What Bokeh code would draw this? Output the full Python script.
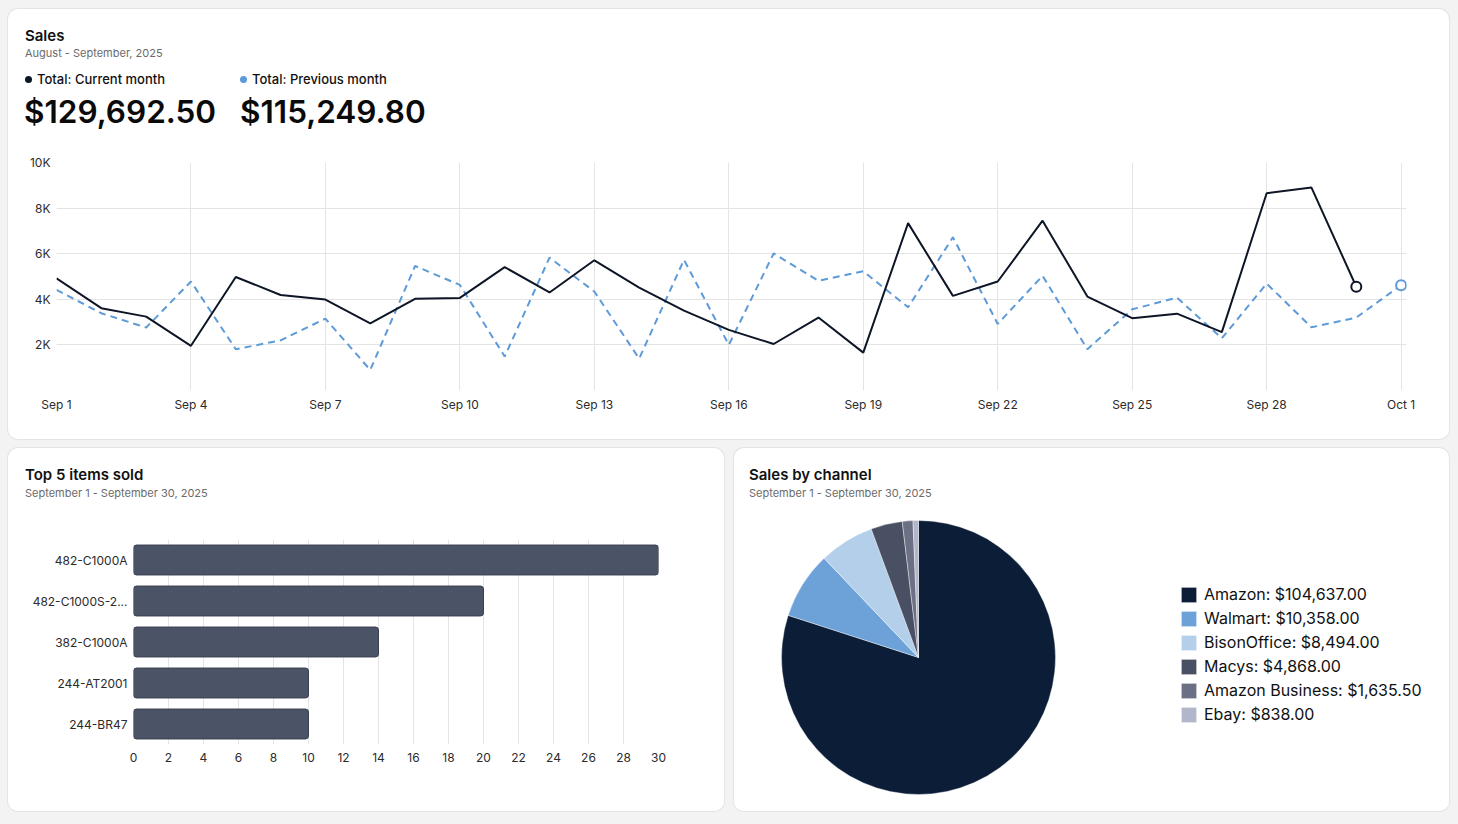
import numpy as np
from bokeh.plotting import figure
from bokeh.models import (Range1d, FactorRange, FixedTicker, Legend, Div,
                          LegendItem, ColumnDataSource, Column, Row)
from bokeh.embed import file_html
from bokeh.resources import INLINE

FONT = "Inter"

# ---------------- data ----------------
days = list(range(1, 32))  # Sep 1 .. Oct 1
current_month = [4920, 3610, 3240, 1960, 4980, 4190, 3990, 2940, 4020, 4060,
                 5410, 4300, 5710, 4510, 3500, 2660, 2040, 3200, 1660, 7340,
                 4150, 4780, 7450, 4120, 3170, 3370, 2560, 8650, 8900, 4550]
previous_month = [4410, 3390, 2760, 4780, 1810, 2200, 3150, 900, 5460, 4630,
                  1490, 5830, 4340, 1400, 5730, 2000, 6010, 4810, 5230, 3650,
                  6720, 2920, 5030, 1810, 3560, 4070, 2290, 4690, 2770, 3200,
                  4620]
x_tick_pos = [1, 4, 7, 10, 13, 16, 19, 22, 25, 28, 31]
x_tick_labels = ["Sep 1", "Sep 4", "Sep 7", "Sep 10", "Sep 13", "Sep 16",
                 "Sep 19", "Sep 22", "Sep 25", "Sep 28", "Oct 1"]
y_tick_pos = [0, 2000, 4000, 6000, 8000, 10000]
y_tick_labels = ["", "2K", "4K", "6K", "8K", "10K"]
series_names = ["Total: Current month", "Total: Previous month"]
series_totals = ["$129,692.50", "$115,249.80"]

items = ["482-C1000A", "482-C1000S-2...", "382-C1000A", "244-AT2001", "244-BR47"]
items_sold = [30, 20, 14, 10, 10]
bar_ticks = list(range(0, 31, 2))

channels = ["Amazon", "Walmart", "BisonOffice", "Macys", "Amazon Business", "Ebay"]
channel_sales = [104637.00, 10358.00, 8494.00, 4868.00, 1635.50, 838.00]
channel_colors = ["#0b1d37", "#6ca2d8", "#b3cfea", "#4a5063", "#6b7084", "#b1b6cb"]

CUR_COLOR = "#0d1526"
PREV_COLOR = "#5c9ad8"
TICK_COLOR = "#2b2b2b"
GRID_COLOR = "#e4e4e4"
CARD_STYLE = {"background-color": "white", "border-radius": "10px",
              "overflow": "hidden", "box-shadow": "0 0 0 1px #e4e4e4"}


def txt(left, top, text, size, weight=400, color="#111111"):
    return (f'<div style="position:absolute;left:{left}px;top:{top}px;'
            f'font-family:{FONT},sans-serif;font-size:{size}px;font-weight:{weight};'
            f'line-height:1;color:{color};white-space:nowrap">{text}</div>')


def dot(left, top, color):
    return (f'<div style="position:absolute;left:{left}px;top:{top}px;width:7px;'
            f'height:7px;border-radius:50%;background:{color}"></div>')


def header(width, height, parts):
    html = (f'<div style="position:relative;width:{width}px;height:{height}px">'
            + "".join(parts) + "</div>")
    return Div(text=html, width=width, height=height, margin=0)


def card_title(width, height, left, title, subtitle):
    return header(width, height, [txt(left, 19, title, 15, 600),
                                  txt(left, 40, subtitle, 11, 400, "#6b6b6b")])


def style_axes(p):
    for ax in p.axis:
        ax.axis_line_color = None
        ax.major_tick_line_color = None
        ax.minor_tick_line_color = None
        ax.major_tick_out = 0
        ax.major_tick_in = 0
        ax.minor_tick_out = 0
        ax.major_label_text_font = FONT
        ax.major_label_text_font_size = "12px"
        ax.major_label_text_color = TICK_COLOR


# ---------------- top: sales line chart ----------------
top_header = header(1441, 140, [
    txt(17, 19, "Sales", 15, 600),
    txt(17, 39, "August - September, 2025", 11, 400, "#6b6b6b"),
    dot(17, 67, CUR_COLOR), txt(29, 64, series_names[0], 13, 500),
    dot(232, 67, PREV_COLOR), txt(244, 64, series_names[1], 13, 500),
    txt(16, 87, series_totals[0], 31.5, 600, "#0a0a0a"),
    txt(232, 87, series_totals[1], 31.5, 600, "#0a0a0a"),
])

X_END = 31.12  # small room so the end marker on Oct 1 is not clipped
top = figure(width=1441, height=290, x_range=Range1d(1, X_END), y_range=Range1d(0, 10000),
             output_backend="svg", toolbar_location=None,
             min_border_left=48, min_border_right=43, min_border_top=13,
             min_border_bottom=49)
top.outline_line_color = None
top.border_fill_color = "white"
style_axes(top)
top.xaxis.ticker = FixedTicker(ticks=x_tick_pos)
top.xaxis.major_label_overrides = dict(zip(x_tick_pos, x_tick_labels))
top.xaxis.major_label_standoff = 6
top.yaxis.ticker = FixedTicker(ticks=y_tick_pos)
top.yaxis.major_label_overrides = dict(zip(y_tick_pos, y_tick_labels))
top.yaxis.major_label_standoff = 6
top.xgrid.ticker = FixedTicker(ticks=x_tick_pos)
top.ygrid.ticker = FixedTicker(ticks=y_tick_pos)
top.grid.grid_line_color = GRID_COLOR

top.line(days[:len(previous_month)], previous_month, line_color=PREV_COLOR,
         line_width=2, line_dash="7 5")
top.line(days[:len(current_month)], current_month, line_color=CUR_COLOR, line_width=2)
top.scatter([days[len(previous_month) - 1]], [previous_month[-1]], size=10,
            fill_color="white", line_color=PREV_COLOR, line_width=2)
top.scatter([days[len(current_month) - 1]], [current_month[-1]], size=10,
            fill_color="white", line_color=CUR_COLOR, line_width=2)

top_card = Column(children=[top_header, top], spacing=0, styles=CARD_STYLE)

# ---------------- bottom-left: bar chart ----------------
bars = figure(width=716, height=293, y_range=FactorRange(factors=items[::-1]),
              x_range=Range1d(0, 30), output_backend="svg", toolbar_location=None,
              min_border_left=125, min_border_right=66, min_border_top=21,
              min_border_bottom=67)
bars.outline_line_color = None
bars.border_fill_color = "white"
style_axes(bars)
bars.xaxis.ticker = FixedTicker(ticks=bar_ticks)
bars.xaxis.major_label_standoff = 8
bars.yaxis.major_label_standoff = 6
bars.ygrid.grid_line_color = None
bars.xgrid.ticker = FixedTicker(ticks=bar_ticks)
bars.xgrid.grid_line_color = GRID_COLOR
bars.hbar(y=items, right=items_sold, left=0, height=0.73, fill_color="#4b5366",
          line_color="#3a4152", line_width=1, border_radius=3)

bars_card = Column(children=[card_title(716, 70, 17, "Top 5 items sold",
                                        "September 1 - September 30, 2025"), bars],
                   spacing=0, styles=CARD_STYLE)

# ---------------- bottom-right: pie chart ----------------
PW, PH = 715, 293
R = 137.0
CX, CY = 184.0, 154.0
pie = figure(width=PW, height=PH, x_range=Range1d(-CX / R, (PW - CX) / R),
             y_range=Range1d(-CY / R, (PH - CY) / R), output_backend="svg",
             toolbar_location=None, min_border=0, x_axis_location=None,
             y_axis_location=None)
pie.outline_line_color = None
pie.grid.visible = False
pie.border_fill_color = "white"

vals = np.array(channel_sales)
cum = np.concatenate([[0], np.cumsum(vals)]) / vals.sum()
start = np.pi / 2 - cum[:-1] * 2 * np.pi
end = np.pi / 2 - cum[1:] * 2 * np.pi
legend_labels = [f"{c}: ${v:,.2f}" for c, v in zip(channels, channel_sales)]
src = ColumnDataSource(dict(start=start, end=end, color=channel_colors,
                            label=legend_labels))
wr = pie.wedge(x=0, y=0, radius=1, start_angle="start", end_angle="end",
               direction="clock", fill_color="color", line_color="white",
               line_alpha=0.5, line_width=0.8, source=src)

legend = Legend(items=[LegendItem(label=lab, renderers=[wr], index=i)
                       for i, lab in enumerate(legend_labels)],
                location=(445, 87), padding=0, margin=0, glyph_width=19,
                glyph_height=19, label_standoff=6, spacing=4,
                label_text_font=FONT, label_text_font_size="16px",
                label_text_color="#111111", border_line_color=None,
                background_fill_alpha=0)
pie.add_layout(legend)

pie_card = Column(children=[card_title(715, 70, 15, "Sales by channel",
                                       "September 1 - September 30, 2025"), pie],
                  spacing=0, styles=CARD_STYLE)

page = Column(children=[top_card, Row(children=[bars_card, pie_card], spacing=10)],
              spacing=9, margin=(9, 9, 13, 8))
outer = Column(children=[page], styles={"background-color": "#f3f3f3"})

open("out.html", "w").write(file_html(outer, INLINE))
